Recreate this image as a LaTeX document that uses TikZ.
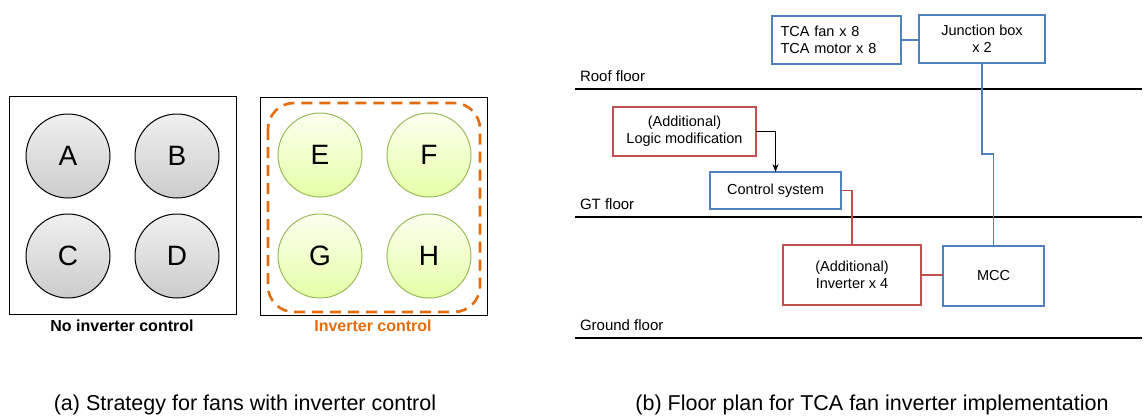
\documentclass[tikz,border=0pt]{standalone}
\usepackage{fontspec}
\setmainfont{Liberation Sans}
\usetikzlibrary{arrows.meta,positioning}
\definecolor{plotblue}{HTML}{4F81BD}
\definecolor{plotred}{HTML}{C0504D}
\definecolor{plotorange}{HTML}{E46C0A}
\definecolor{fangreen}{HTML}{9BBB59}
\newcommand{\boxfont}{\fontsize{14.5}{17}\selectfont}

\begin{document}
\begin{tikzpicture}
    [x=1pt, y=-1pt,
    every node/.style = {inner sep=0pt, outer sep=0pt},
    fan/.style = {circle, minimum size=84pt, draw=black, line width=1pt,
        top color=gray!12, bottom color=gray!40,
        font=\fontsize{28}{30}\selectfont},
    vfdfan/.style = {circle, minimum size=84pt, draw=fangreen, line width=1pt,
        top color=green!20!yellow!6, bottom color=green!30!yellow!35,
        font=\fontsize{28}{30}\selectfont},
    bluebox/.style = {rectangle, draw=plotblue, line width=2.2pt,
        align=center, font=\boxfont},
    redbox/.style = {rectangle, draw=plotred, line width=2pt,
        align=center, font=\boxfont},
    floor/.style = {draw=black, line width=1.8pt},
    floorlabel/.style = {anchor=base west, font=\fontsize{15}{17}\selectfont},
    caption/.style = {font=\fontsize{21.5}{24}\selectfont},
    bluewire/.style = {draw=plotblue, line width=1.4pt},
    redwire/.style = {draw=plotred, line width=1.4pt}]

    \useasboundingbox (0,0) rectangle (1147,418);

    % (a) fans
    \draw[line width=1pt] (9,96) rectangle (236,314);
    \draw[line width=1pt] (260,97) rectangle (487,315);
    \draw[plotorange, line width=2.6pt, dash pattern=on 11pt off 7pt,
        rounded corners=26pt] (268,103) rectangle (480,312);

    \node[fan] (fanA) at (68,156) {A};
    \node[fan] (fanB) at (177,156) {B};
    \node[fan] (fanC) at (68,256) {C};
    \node[fan] (fanD) at (177,256) {D};
    \node[vfdfan] (fanE) at (320,155) {E};
    \node[vfdfan] (fanF) at (429,155) {F};
    \node[vfdfan] (fanG) at (320,256) {G};
    \node[vfdfan] (fanH) at (429,256) {H};

    \node[font=\bfseries\fontsize{16}{18}\selectfont] (noinv) at (122,326) {No inverter control};
    \node[font=\bfseries\fontsize{16}{18}\selectfont, text=plotorange] (inv) at (373,326) {Inverter control};

    \node[caption] (capa) at (245,405) {(a) Strategy for fans with inverter control};
    \node[caption] (capb) at (872,405) {(b) Floor plan for TCA fan inverter implementation};

    % (b) floor plan
    \draw[floor] (575,89) -- (1142,89);
    \draw[floor] (575,217) -- (1142,217);
    \draw[floor] (575,338) -- (1142,338);
    \node[floorlabel] (roof) at (580,81) {Roof floor};
    \node[floorlabel] (gt) at (580,209) {GT floor};
    \node[floorlabel] (ground) at (580,330) {Ground floor};

    \node[bluebox, minimum width=129pt, minimum height=48pt, align=left,
        text width=112pt] (tca) at (836.5,40) {TCA fan x 8\\ TCA motor x 8};
    \node[bluebox, minimum width=126pt, minimum height=48pt] (jbox) at (982,39) {Junction box\\ x 2};
    \node[redbox, minimum width=143pt, minimum height=49pt] (logic) at (684.5,131.5) {(Additional)\\ Logic modification};
    \node[bluebox, minimum width=131pt, minimum height=37pt] (ctrl) at (775.5,190.5) {Control system};
    \node[redbox, minimum width=138pt, minimum height=60pt] (invb) at (852,275) {(Additional)\\ Inverter x 4};
    \node[bluebox, minimum width=101pt, minimum height=60pt] (mcc) at (993.5,276) {MCC};

    \coordinate (jog) at (983,154);
    \draw[bluewire] (tca.east) -- (tca.east -| jbox.west);
    \draw[bluewire] (jbox.south) -- (jbox.south |- jog) -- (mcc.north |- jog) -- (mcc.north);
    \draw[line width=1.2pt, -{Stealth[length=8pt, width=6pt]}]
        (logic.east) -| (ctrl.north);
    \draw[redwire] (ctrl.east) -| (invb.north);
    \draw[redwire] (invb.east) -- (invb.east -| mcc.west);
\end{tikzpicture}
\end{document}
